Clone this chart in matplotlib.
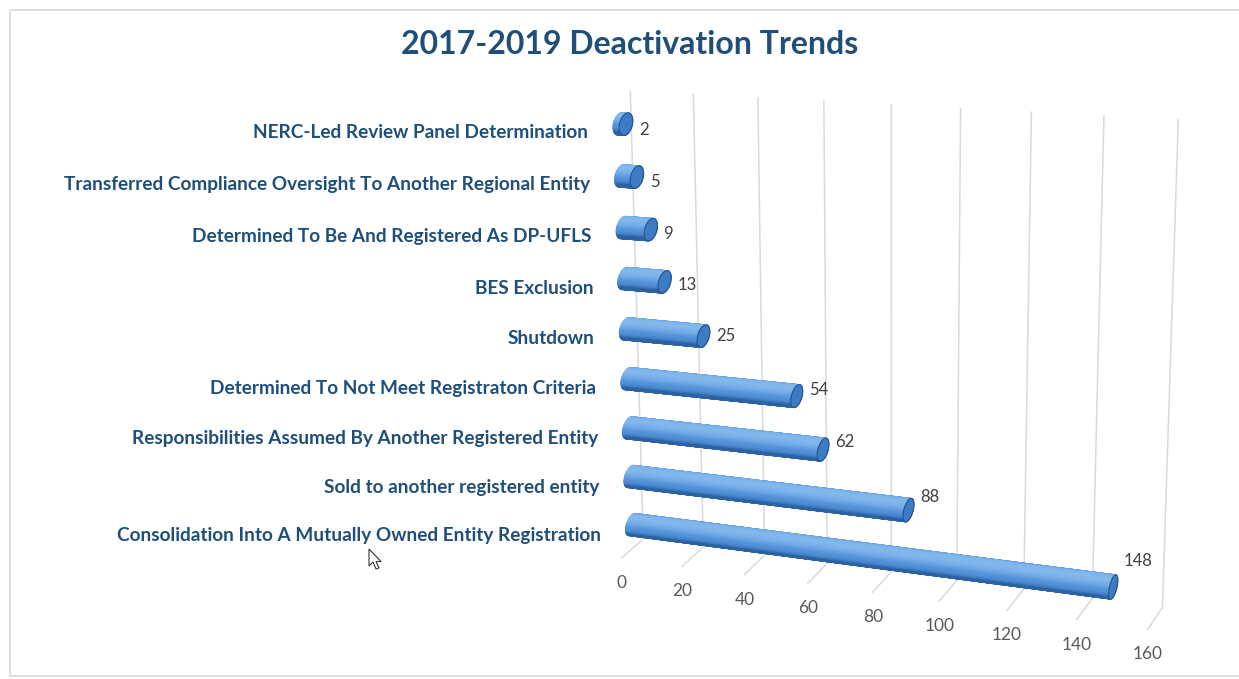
import numpy as np
import matplotlib.pyplot as plt
from matplotlib.collections import PolyCollection
from matplotlib.colors import LinearSegmentedColormap
from matplotlib.patches import Rectangle, Polygon

# Data (bottom row first)
categories = [
    'Consolidation Into A Mutually Owned Entity Registration',
    'Sold to another registered entity',
    'Responsibilities Assumed By Another Registered Entity',
    'Determined To Not Meet Registraton Criteria',
    'Shutdown',
    'BES Exclusion',
    'Determined To Be And Registered As DP-UFLS',
    'Transferred Compliance Oversight To Another Regional Entity',
    'NERC-Led Review Panel Determination',
]
counts = [148, 88, 62, 54, 25, 13, 9, 5, 2]
x_ticks = [0, 20, 40, 60, 80, 100, 120, 140, 160]
x_max = 160
title = '2017-2019 Deactivation Trends'

W, H = 1239, 679

# 3D plot box (value, depth, height) and where it sits in the picture
box_world = np.array([[0, 1, 1], [x_max, 1, 1], [0, 1, 0], [x_max, 1, 0],
                      [0, 0, 0], [x_max, 0, 0], [80, 1, 1],
                      [40, 1, 0], [120, 1, 0], [40, 0, 0], [120, 0, 0]], float)
box_pixel = np.array([[630, 92], [1178, 120], [643, 538], [1162, 608],
                      [622, 558], [1148, 628], [892, 104],
                      [765, 555], [1024, 590], [744, 575], [1007, 611]], float)


def fit_camera(world, pix):
    wn = world / [x_max, 1, 1]
    pn = pix / 1000.0
    rows = []
    for (X, Y, Z), (x, y) in zip(wn, pn):
        rows.append([X, Y, Z, 1, 0, 0, 0, 0, -x * X, -x * Y, -x * Z, -x])
        rows.append([0, 0, 0, 0, X, Y, Z, 1, -y * X, -y * Y, -y * Z, -y])
    _, _, vt = np.linalg.svd(np.array(rows))
    P = vt[-1].reshape(3, 4)
    if (np.c_[wn, np.ones(len(wn))] @ P[2]).mean() < 0:
        P = -P
    return P


P = fit_camera(box_world, box_pixel)


def project(u, v, w):
    u, v, w = np.broadcast_arrays(np.asarray(u, float), np.asarray(v, float),
                                  np.asarray(w, float))
    h = P @ np.stack([u / x_max, v, w, np.ones_like(u)])
    return h[0] / h[2] * 1000, h[1] / h[2] * 1000, h[2]


fig = plt.figure(figsize=(W / 100, H / 100), dpi=100)
ax = fig.add_axes([0, 0, 1, 1])
ax.set_xlim(0, W)
ax.set_ylim(H, 0)
ax.axis('off')

ax.add_patch(Rectangle((10, 10), W, 666, fill=False, ec='#d9d9d9', lw=1.2))

# gridlines: back wall verticals + floor diagonals
grid_c = '#d9d9d9'
for t in x_ticks:
    gx, gy, _ = project([t, t, t], [0, 1, 1], [0, 0, 1])
    ax.plot(gx, gy, color=grid_c, lw=1.1, zorder=1)
    lx, ly, _ = project(t, 0, 0)
    ax.text(lx, ly + 25, str(t), ha='center', va='center', fontsize=12.5,
            color='#595959', family='Lato')

# cylinders
n_seg = 48
theta = np.linspace(0, 2 * np.pi, n_seg + 1)
r_v, r_w, v0 = 0.3, 0.0225, 0.5
light = np.array([-0.35, 1.0])
light /= np.linalg.norm(light)
cmap = LinearSegmentedColormap.from_list(
    'bar', ['#22548f', '#4483cc', '#5b9ade', '#84b9ee'])
n_cat = len(categories)

for i, (cat, val) in enumerate(zip(categories, counts)):
    wc = (i + 0.5) / n_cat
    cv = v0 + r_v * np.cos(theta)
    cw = wc + r_w * np.sin(theta)
    x0, y0, d0 = project(0, cv, cw)
    x1, y1, d1 = project(val, cv, cw)
    polys, cols, depth = [], [], []
    for k in range(n_seg):
        polys.append([(x0[k], y0[k]), (x0[k + 1], y0[k + 1]),
                      (x1[k + 1], y1[k + 1]), (x1[k], y1[k])])
        tm = 0.5 * (theta[k] + theta[k + 1])
        shade = max(0.0, np.cos(tm) * light[0] + np.sin(tm) * light[1])
        cols.append(cmap(0.1 + 0.9 * shade))
        depth.append(d0[k] + d0[k + 1] + d1[k] + d1[k + 1])
    order = np.argsort(depth)[::-1]
    pc = PolyCollection([polys[j] for j in order],
                        facecolors=[cols[j] for j in order],
                        edgecolors=[cols[j] for j in order], linewidths=0.6,
                        zorder=3)
    ax.add_collection(pc)
    ax.add_patch(Polygon(np.c_[x1, y1], closed=True, fc='#3d7bc4',
                         ec='#22548f', lw=0.8, zorder=4))

    # category label
    cx, cy, _ = project(0, 0, wc)
    ax.text(cx - 20, cy + 2, cat, ha='right', va='center', fontsize=13.7,
            fontweight='bold', color='#1f4e79', family='Lato')
    # value label
    vx, vy, _ = project(val, v0 + r_v, wc)
    ax.text(vx + 6, vy + 10 - 0.2 * val, str(val), ha='left', va='center',
            fontsize=12, color='#404040', family='Lato')

ax.text(630, 45, title, ha='center', va='center', fontsize=23,
        fontweight='bold', color='#1f4e79', family='Lato')

# mouse pointer left in the screenshot
tip = np.array([369, 549])
arrow = np.array([[0, 0], [0, 17], [4, 13], [7, 20], [10, 19], [7, 12.5], [12, 12.5]])
ax.add_patch(Polygon(arrow + tip, closed=True, fc='white', ec='#333333',
                     lw=0.8, zorder=5))

fig.savefig('out.png', dpi=100)
